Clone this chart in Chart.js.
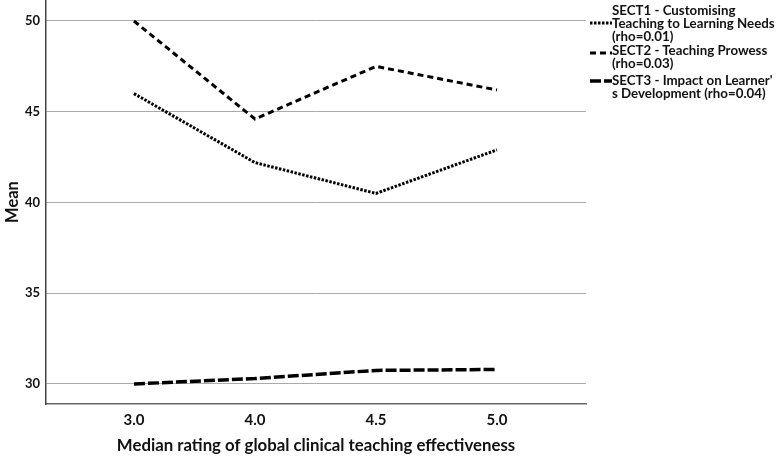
<!DOCTYPE html>
<html><head><meta charset="utf-8">
<script src="https://cdn.jsdelivr.net/npm/chart.js@4.4.0/dist/chart.umd.min.js"></script>
<style>
html,body{margin:0;padding:0;background:#fff;}
#wrap{position:relative;width:778px;height:458px;overflow:hidden;}
#c{position:absolute;left:0;top:0;}
.lg{position:absolute;left:612px;font-family:Lato,sans-serif;font-weight:bold;font-size:13.3px;line-height:13px;color:#111;white-space:nowrap;}
.sw{position:absolute;left:589px;width:23px;height:6px;}
</style>
</head><body>
<div id="wrap">
<canvas id="c" width="778" height="458"></canvas>
<svg class="sw" style="top:20px" viewBox="0 0 23 6"><line x1="1" y1="3" x2="23" y2="3" stroke="#000" stroke-width="3" stroke-dasharray="2.5 1.5"/></svg>
<svg class="sw" style="top:50px" viewBox="0 0 23 6"><line x1="1" y1="3" x2="23" y2="3" stroke="#000" stroke-width="3" stroke-dasharray="6 4"/></svg>
<svg class="sw" style="top:78px" viewBox="0 0 23 6"><line x1="1" y1="3" x2="23" y2="3" stroke="#000" stroke-width="3.5" stroke-dasharray="11 3"/></svg>
<div class="lg" id="l0" style="top:4px"></div>
<div class="lg" id="l1" style="top:44px"></div>
<div class="lg" id="l2" style="top:74px"></div>
</div>
<script>
const categories = ['3.0', '4.0', '4.5', '5.0'];
const sect1 = [46.0, 42.2, 40.5, 42.9];
const sect2 = [50.0, 44.6, 47.5, 46.2];
const sect3 = [30.0, 30.3, 30.75, 30.8];
const yTicks = [30, 35, 40, 45, 50];
const legendLines = [
  ['SECT1 - Customising', 'Teaching to Learning Needs', '(rho=0.01)'],
  ['SECT2 - Teaching Prowess', '(rho=0.03)'],
  ["SECT3 - Impact on Learner'", 's Development (rho=0.04)']
];
const seriesNames = legendLines.map(l => l.join(' '));

legendLines.forEach((lines, i) => {
  document.getElementById('l' + i).innerHTML = lines.map(t => t.replace(/&/g,'&amp;').replace(/</g,'&lt;')).join('<br>');
});

const toPts = arr => arr.map((v, i) => ({x: i, y: v}));
const FONT = 'Lato, sans-serif';

new Chart(document.getElementById('c'), {
  type: 'line',
  data: {
    datasets: [
      {label: seriesNames[0], data: toPts(sect1), borderColor: '#000', borderWidth: 3, borderDash: [2.5, 1.5], pointRadius: 0, fill: false, tension: 0},
      {label: seriesNames[1], data: toPts(sect2), borderColor: '#000', borderWidth: 3, borderDash: [6, 4], pointRadius: 0, fill: false, tension: 0},
      {label: seriesNames[2], data: toPts(sect3), borderColor: '#000', borderWidth: 3.5, borderDash: [11, 3], pointRadius: 0, fill: false, tension: 0}
    ]
  },
  options: {
    responsive: false,
    animation: false,
    layout: {padding: {left: 0, right: 192, top: 0, bottom: 0}},
    plugins: {legend: {display: false}, tooltip: {enabled: false}},
    scales: {
      x: {
        type: 'linear',
        min: -0.727,
        max: 3.736,
        afterBuildTicks: s => { s.ticks = categories.map((_, i) => ({value: i})); },
        afterFit: s => { s.height = 54; },
        grid: {display: false, drawTicks: false},
        border: {display: true, color: '#666', width: 1.5},
        ticks: {
          autoSkip: false, maxRotation: 0, padding: 7,
          color: '#111', font: {family: FONT, size: 15, weight: 'bold'},
          callback: v => categories[v]
        },
        title: {display: true, text: 'Median rating of global clinical teaching effectiveness',
          color: '#111', font: {family: FONT, size: 16.8, weight: 'bold'}, padding: {top: 0, bottom: 2}}
      },
      y: {
        min: 28.898,
        max: 51.157,
        afterBuildTicks: s => { s.ticks = yTicks.map(v => ({value: v})); },
        afterFit: s => { s.width = 46; s.paddingTop = 0; s.paddingBottom = 0; },
        grid: {color: '#aaa', lineWidth: 1, drawTicks: false},
        border: {display: true, color: '#444', width: 1.5},
        ticks: {padding: 6, color: '#111', font: {family: FONT, size: 13, weight: 'bold'}},
        title: {display: true, text: 'Mean', color: '#111', font: {family: FONT, size: 16.5, weight: 'bold'}, padding: {top: 3, bottom: 0}}
      }
    }
  }
});
</script>
</body></html>
